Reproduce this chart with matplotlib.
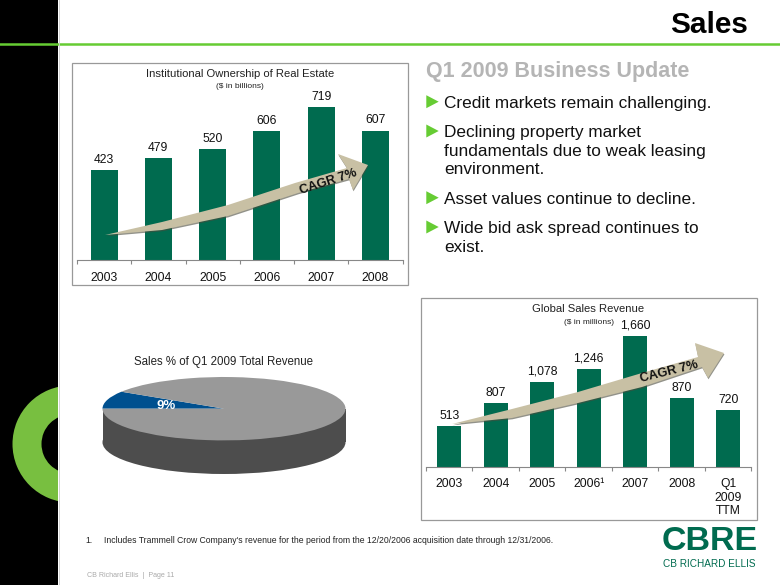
#!/usr/bin/env python3
# -*- coding: utf-8 -*-

import matplotlib
matplotlib.use("Agg")
import matplotlib.pyplot as plt
from matplotlib.patches import Polygon, Rectangle, Wedge

plt.rcParams['font.family'] = ['Liberation Sans', 'DejaVu Sans']

W = 780
H = 585

# data
own_years  = ['2003', '2004', '2005', '2006', '2007', '2008']
own_values = [423, 479, 520, 606, 719, 607]

rev_years  = ['2003', '2004', '2005', '2006¹', '2007', '2008', 'Q1\n2009\nTTM']
rev_values = [513, 807, 1078, 1246, 1660, 870, 720]
rev_labels = ['513', '807', '1,078', '1,246', '1,660', '870', '720']

pie_shares = [9, 91]
pie_labels = ['9%']

bullets = [
    ("Credit markets remain challenging.", 107.7, 101.7),
    ("Declining property market\nfundamentals due to weak leasing\nenvironment.", 137, 131),
    ("Asset values continue to decline.", 203.7, 197.7),
    ("Wide bid ask spread continues to\nexist.", 233, 227),
]

GREEN = '#006b4f'
LIME  = '#66cc33'
TAN   = '#c8c0a4'


def px_axes(fig, left, top, right, bottom, z):
    ax = fig.add_axes([left / W, 1 - bottom / H, (right - left) / W, (bottom - top) / H])
    ax.set_zorder(z)
    return ax


def bar_chart(fig, box, cats, values, labels, ymax, width):
    ax = px_axes(fig, box[0], box[1], box[2], box[3], 1)
    x = range(len(cats))
    ax.bar(x, values, width=width, color=GREEN)
    ax.set_xlim(-0.5, len(cats) - 0.5)
    ax.set_ylim(0, ymax)
    ax.patch.set_alpha(0)
    for s in ['top', 'left', 'right']:
        ax.spines[s].set_visible(False)
    ax.spines['bottom'].set_color('#888888')
    ax.set_yticks([])
    ax.set_xticks(list(x))
    ax.set_xticklabels(cats, fontsize=8.7, color='#111111', linespacing=1.15, va='top')
    ax.tick_params(axis='x', which='major', length=0, pad=8.3)
    ax.set_xticks([i - 0.5 for i in range(len(cats) + 1)], minor=True)
    ax.tick_params(axis='x', which='minor', length=3, color='#888888', width=0.8)
    for i, v in enumerate(values):
        ax.annotate(labels[i], (i, v), xytext=(0, 3.2), textcoords='offset points',
                    ha='center', va='bottom', fontsize=8.7, color='#111111')
    return ax


def arrow(ax, pts, text, tx, ty, rot):
    shadow = [(p[0] + 0.5, p[1] + 1.3) for p in pts]
    ax.add_patch(Polygon(shadow, closed=True, fc='#4a4a3c', ec='none', alpha=0.6))
    ax.add_patch(Polygon(pts, closed=True, fc=TAN, ec='none'))
    ax.text(tx, ty, text, rotation=rot, rotation_mode='anchor', ha='center', va='center',
            fontsize=9.2, fontweight='bold', color='#111111')


if __name__ == '__main__':

    fig = plt.figure(figsize=(W / 100, H / 100), dpi=100)

    # slide background, in pixels
    bg = px_axes(fig, 0, 0, W, H, 0)
    bg.set_xlim(0, W)
    bg.set_ylim(H, 0)
    bg.axis('off')
    bg.add_patch(Rectangle((0, 0), 58, H, fc='black', ec='none'))
    bg.add_patch(Wedge((71, 444), 58.5, 0, 360, width=29, fc='#78bf40', ec='none', zorder=2))
    bg.add_patch(Rectangle((58, 340), 90, 200, fc='white', ec='none', zorder=3))
    bg.plot([0, W], [43.5, 43.5], color=LIME, lw=1.8, zorder=4)
    bg.plot([58.5, 58.5], [0, H], color='#cccccc', lw=0.6, zorder=4)

    bg.text(748, 33, "Sales", ha='right', va='baseline', fontsize=21.4, fontweight='bold', color='black')
    bg.text(425.5, 77, "Q1 2009 Business Update", ha='left', va='baseline', fontsize=15.5,
            fontweight='bold', color='#b5b5b5')

    for txt, base, tri in bullets:
        for k, line in enumerate(txt.split('\n')):
            bg.text(444.3, base + 18.7 * k, line, ha='left', va='baseline', fontsize=12.45, color='#111111')
        bg.add_patch(Polygon([(426.3, tri - 6.5), (426.3, tri + 6.5), (438.7, tri)], closed=True, fc=LIME, ec='none'))

    # chart frames
    bg.add_patch(Rectangle((71.5, 63), 336, 222, fc='white', ec='#999999', lw=0.9))
    bg.add_patch(Rectangle((420.5, 298), 336, 222, fc='white', ec='#999999', lw=0.9))

    bg.text(240, 74, "Institutional Ownership of Real Estate", ha='center', va='center', fontsize=8.1, color='#222222')
    bg.text(240, 87, "($ in billions)", ha='center', va='center', fontsize=6, color='#222222')
    bg.text(588, 309, "Global Sales Revenue", ha='center', va='center', fontsize=8.1, color='#222222')
    bg.text(589, 322, "($ in millions)", ha='center', va='center', fontsize=6, color='#222222')
    bg.text(224, 362, "Sales % of Q1 2009 Total Revenue", ha='center', va='center', fontsize=8.3, color='#222222')

    bg.text(85, 540.5, "1.", ha='left', va='center', fontsize=6.25, color='#222222')
    bg.text(104.5, 540.5, "Includes Trammell Crow Company's revenue for the period from the 12/20/2006 "
            "acquisition date through 12/31/2006.", ha='left', va='center', fontsize=6.25, color='#222222')
    bg.text(87, 575.7, "CB Richard Ellis  |  Page 11", ha='left', va='center', fontsize=5.1, color='#aaaaaa')

    # logo
    bg.text(709.5, 550, "CBRE", ha='center', va='baseline', fontsize=24.5, fontweight='bold', color=GREEN)
    bg.text(709.5, 564, "CB RICHARD ELLIS", ha='center', va='center', fontsize=7.2, color=GREEN)

    # bars
    bar_chart(fig, (77, 89.8, 402.5, 260), own_years, own_values, [str(v) for v in own_values], 800, 0.5)
    bar_chart(fig, (426, 325.4, 751.5, 466.7), rev_years, rev_values, rev_labels, 1800, 0.52)

    # pie, squashed into an ellipse with a second one below it for the side
    pie = px_axes(fig, 224 - 121.5, 377, 224 + 121.5, 474, 1)
    pie.patch.set_alpha(0)
    pie.pie([100], colors=['#4d4d4d'], center=(0, -1.06), radius=1)
    pie.fill_between([-1, 1], -1.06, 0, color='#4d4d4d', lw=0)
    wedges, _ = pie.pie(pie_shares, colors=['#00508f', '#999999'], startangle=147.6, radius=1)
    pie.set_aspect('auto')
    pie.set_xlim(-1, 1)
    pie.set_ylim(-2.06, 1)
    pie.text(-0.48, 0.095, pie_labels[0], ha='center', va='center', fontsize=9.5, fontweight='bold',
             color='white', zorder=10)

    # arrows on top of the bars
    top = px_axes(fig, 0, 0, W, H, 2)
    top.set_xlim(0, W)
    top.set_ylim(H, 0)
    top.axis('off')
    arrow(top, [(105, 235), (162, 222), (228, 205), (295, 183), (347, 168), (338, 154), (368, 165),
                (353, 190), (349, 179), (298, 193), (228, 216), (162, 230)],
          "CAGR 7%", 328, 182, 18)
    arrow(top, [(452, 424), (512, 409), (578, 392), (642, 373), (698, 357), (695, 343), (724, 353),
                (708, 378), (702, 367), (642, 387), (578, 403), (512, 418)],
          "CAGR 7%", 669, 372, 14)

    plt.savefig("out.png", dpi=100)
